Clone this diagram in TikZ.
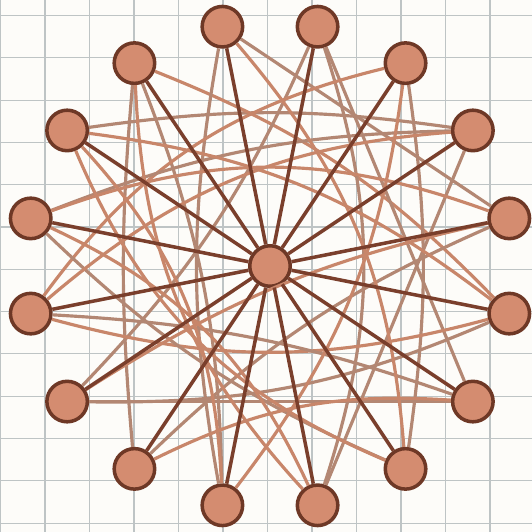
\documentclass[tikz,border=0pt]{standalone}
\usepackage{tikz}
\usetikzlibrary{calc}
\definecolor{nodefill}{HTML}{D48C70}
\definecolor{nodeline}{HTML}{6E3826}
\definecolor{spokecol}{HTML}{7A3F2C}
\definecolor{linkcol}{HTML}{B38773}
\definecolor{linkcolb}{HTML}{C8866A}
\definecolor{gridcol}{HTML}{BEC4C5}
\definecolor{paper}{HTML}{FDFCF9}

\begin{document}
\begin{tikzpicture}[
  x=1cm,y=1cm,
  vertex/.style={circle, draw=nodeline, fill=nodefill, line width=2pt,
    minimum size=8.1mm, inner sep=0pt},
  spoke/.style={draw=spokecol, line width=2pt},
  link/.style={draw=linkcol, line width=1.8pt},
  linkb/.style={draw=linkcolb, line width=1.8pt},
  gridline/.style={draw=gridcol, line width=0.6pt}
]
  \fill[paper] (-5.40,-5.32) rectangle (5.24,5.32);
  \useasboundingbox (-5.40,-5.32) rectangle (5.24,5.32);

  % squared paper
  \foreach \k in {-6,...,5}
    \draw[gridline] ({-0.05+0.89*\k},-5.32) -- ({-0.05+0.89*\k},5.32);
  \foreach \k in {0,...,12}
    \draw[gridline] (-5.40,{5.01-0.846*\k}) -- (5.24,{5.01-0.846*\k});

  \node[vertex] (hub) at (0,0) {};
  \node[vertex] (v1)  at (11.25:4.88) {};
  \node[vertex] (v2)  at (33.75:4.88) {};
  \node[vertex] (v3)  at (56.25:4.88) {};
  \node[vertex] (v4)  at (78.75:4.88) {};
  \node[vertex] (v5)  at (101.25:4.88) {};
  \node[vertex] (v6)  at (123.75:4.88) {};
  \node[vertex] (v7)  at (146.25:4.88) {};
  \node[vertex] (v8)  at (168.75:4.88) {};
  \node[vertex] (v9)  at (191.25:4.88) {};
  \node[vertex] (v10) at (213.75:4.88) {};
  \node[vertex] (v11) at (236.25:4.88) {};
  \node[vertex] (v12) at (258.75:4.88) {};
  \node[vertex] (v13) at (281.25:4.88) {};
  \node[vertex] (v14) at (303.75:4.88) {};
  \node[vertex] (v15) at (326.25:4.88) {};
  \node[vertex] (v16) at (348.75:4.88) {};

  % chords between the outer ring
  \draw[link]  (v7) to[bend left=8] (v2);
  \draw[link]  (v6) to[bend right=5] (v11);
  \draw[link]  (v6) to[bend left=10] (v12);
  \draw[linkb] (v16) to[bend right=12] (v6);
  \draw[link]  (v5) -- (v1);
  \draw[link]  (v5) to[bend right=10] (v12);
  \draw[link]  (v4) to[bend left=10] (v10);
  \draw[link]  (v15) -- (v4);
  \draw[link]  (v13) to[bend right=18] (v4);
  \draw[link]  (v3) to[bend left=8] (v14);
  \draw[linkb] (v3) to[bend right=20] (v9);
  \draw[link]  (v13) -- (v2);
  \draw[link]  (v2) to[bend right=10] (v8);
  \draw[link]  (v11) to[bend left=10] (v1);
  \draw[linkb] (v9) to[bend right=15] (v16);
  \draw[link]  (v10) to[bend right=12] (v16);
  \draw[link]  (v10) -- (v15);
  \draw[link]  (v9) to[bend left=8] (v15);
  \draw[link]  (v8) to[bend right=10] (v14);
  \draw[linkb] (v12) to[bend right=15] (v3);
  \draw[linkb] (v11) to[bend left=15] (v15);
  \draw[linkb] (v1) to[bend right=20] (v8);
  \draw[linkb] (v2) to[bend right=18] (v9);
  \draw[linkb] (v7) to[bend right=22] (v14);
  \draw[linkb] (v10) to[bend left=10] (v1);
  \draw[linkb] (v6) to[bend right=20] (v13);
  \draw[linkb] (v7) to[bend left=20] (v12);
  \draw[linkb] (v14) to[bend right=18] (v5);
  \draw[linkb] (v16) to[bend right=15] (v7);
  \draw[linkb] (v8) to[bend left=20] (v13);

  % spokes from the hub
  \foreach \i in {1,...,16}
    \draw[spoke] (hub) -- (v\i);
\end{tikzpicture}
\end{document}
